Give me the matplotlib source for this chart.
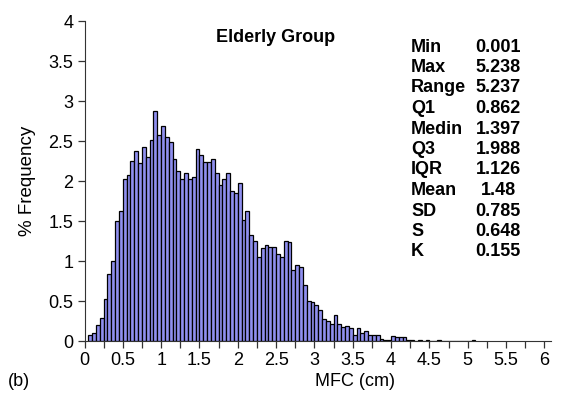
import numpy as np
import matplotlib
matplotlib.use("Agg")
import matplotlib.pyplot as plt
from matplotlib.ticker import MultipleLocator, FuncFormatter

plt.rcParams['font.family'] = ['Liberation Sans', 'DejaVu Sans']

# histogram: bin width 0.05 cm, first bin starts at 0.05
bin_width = 0.05
freq = [
    0.07, 0.10, 0.20, 0.29, 0.53, 0.84, 1.00, 1.50, 1.62, 2.03,
    2.08, 2.25, 2.37, 2.22, 2.42, 2.30, 2.51, 2.88, 2.58, 2.69,
    2.55, 2.49, 2.28, 2.13, 2.03, 2.10, 2.02, 2.05, 2.40, 2.33,
    2.24, 2.24, 2.28, 2.10, 1.95, 2.03, 2.10, 1.88, 1.85, 1.97,
    1.51, 1.63, 1.33, 1.25, 1.05, 1.16, 1.20, 1.17, 1.17, 1.09,
    1.05, 1.25, 1.24, 0.89, 0.95, 0.92, 0.70, 0.50, 0.49, 0.45,
    0.39, 0.27, 0.25, 0.21, 0.33, 0.21, 0.18, 0.19, 0.16, 0.075,
    0.16, 0.10, 0.125, 0.08, 0.08, 0.08, 0.02, 0.015, 0.015, 0.06,
    0.05, 0.05, 0.05, 0.015, 0.015, 0.0, 0.015, 0.0, 0.015, 0.0,
    0.0, 0.015, 0.0, 0.0, 0.0, 0.0, 0.0, 0.0, 0.0, 0.0,
    0.015,
]
bin_left = bin_width * np.arange(1, len(freq) + 1)

stat_names = ["Min", "Max", "Range", "Q1", "Medin", "Q3", "IQR", "Mean", "SD", "S", "K"]
stat_values = ["0.001", "5.238", "5.237", "0.862", "1.397", "1.988", "1.126", "1.48", "0.785", "0.648", "0.155"]

fig = plt.figure(figsize=(5.66, 4.01), dpi=100)
ax = fig.add_axes([84.5 / 566, 60 / 401, 466 / 566, 320 / 401])

ax.bar(bin_left, freq, width=bin_width, align='edge',
       color='#8f8fef', edgecolor='black', linewidth=0.9)

ax.set_xlim(0, 6.08)
ax.set_ylim(0, 4)
ax.spines['top'].set_visible(False)
ax.spines['right'].set_visible(False)
ax.spines['left'].set_color('#333333')
ax.spines['bottom'].set_color('#333333')

ax.xaxis.set_major_locator(MultipleLocator(0.5))
ax.xaxis.set_minor_locator(MultipleLocator(0.25))
ax.yaxis.set_major_locator(MultipleLocator(0.5))
fmt = FuncFormatter(lambda v, p: f"{v:g}")
ax.xaxis.set_major_formatter(fmt)
ax.yaxis.set_major_formatter(fmt)
ax.tick_params(axis='both', which='both', direction='out', length=5,
               width=0.9, color='#333333', labelsize=13, pad=3)

ax.set_xlabel("MFC (cm)", fontsize=13)
ax.xaxis.set_label_coords((355 - 84.5) / 466, -(373 - 341) / 320)
ax.set_ylabel("% Frequency", fontsize=13.5, labelpad=9)

fig.text(19 / 566, 1 - 381 / 401, "(b)", fontsize=13, ha='center', va='center')
fig.text(276 / 566, 1 - 37 / 401, "Elderly Group", fontsize=13,
         fontweight='bold', ha='center', va='center')

y0 = 47
dy = 20.5
for i, (name, val) in enumerate(zip(stat_names, stat_values)):
    y = 1 - (y0 + i * dy) / 401
    fig.text(411 / 566, y, name, fontsize=13, fontweight='bold', ha='left', va='center')
    fig.text(498 / 566, y, val, fontsize=13, fontweight='bold', ha='center', va='center')

fig.savefig("out.png", dpi=100)
